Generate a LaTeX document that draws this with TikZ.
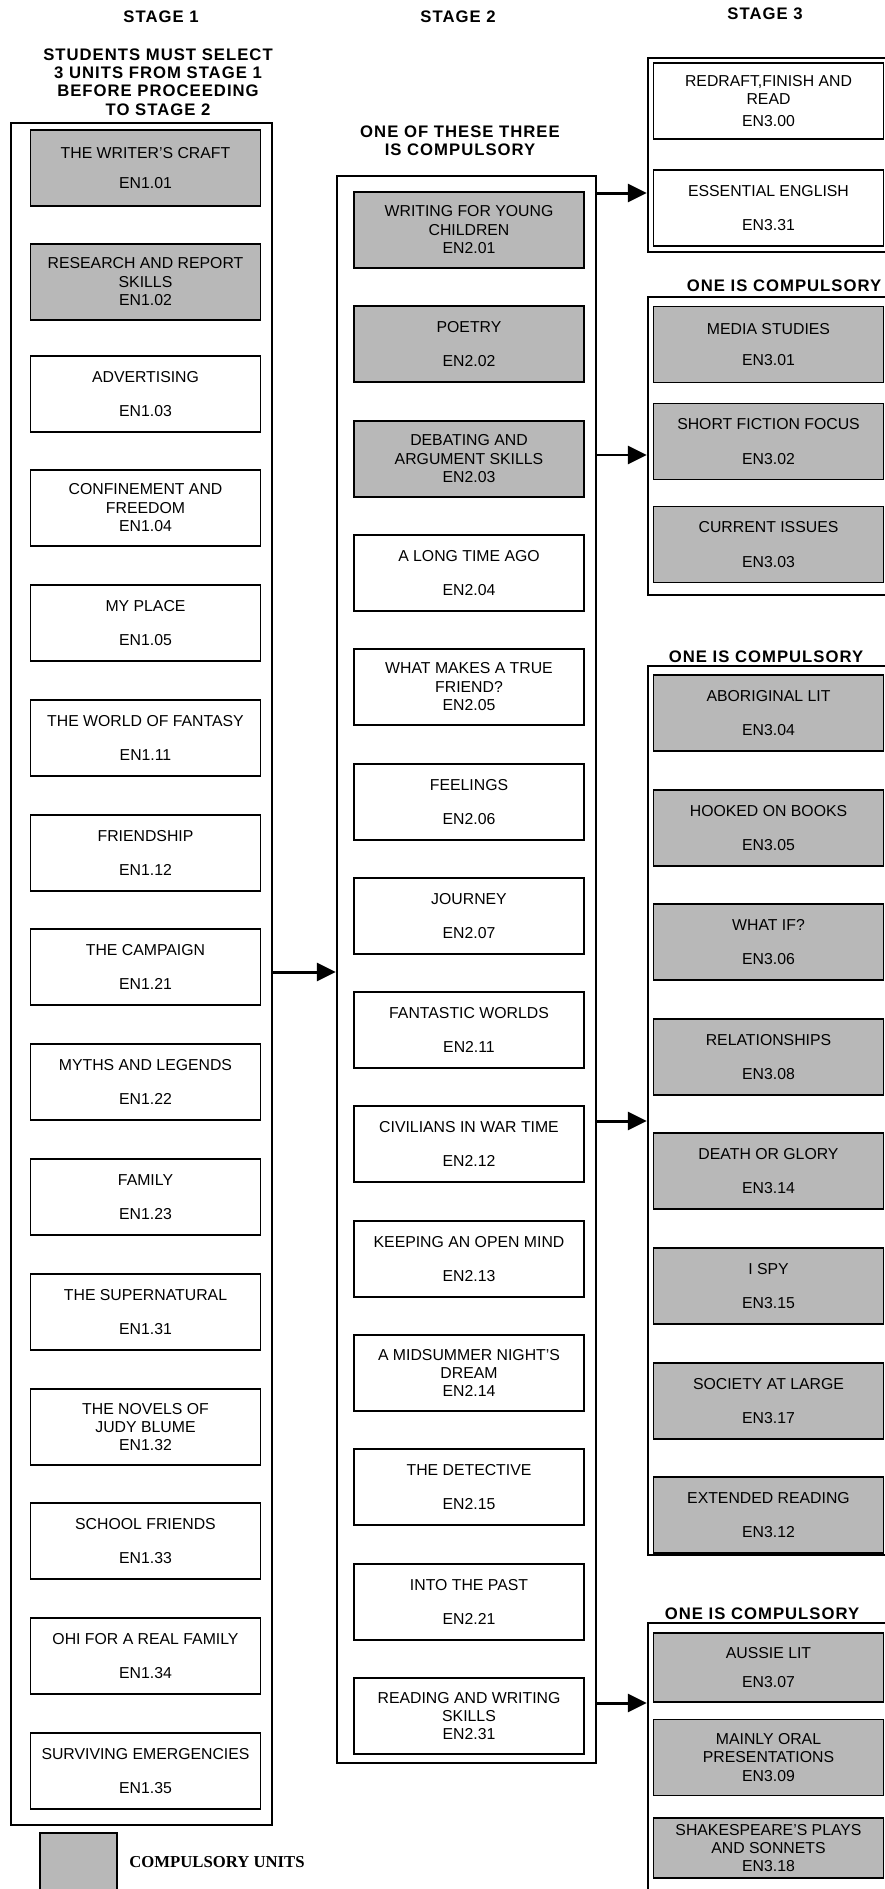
\documentclass[tikz,border=0pt]{standalone}
\usepackage{fontspec}
\setmainfont{Liberation Sans}
\newfontfamily\headfont[LetterSpace=6]{Liberation Sans}
\newfontfamily\legendfont{Liberation Serif}
\usetikzlibrary{arrows.meta}

\tikzset{
  frame/.style={draw, line width=1.4pt, inner sep=0pt},
  unit/.style={draw, line width=1.1pt, minimum width=46mm, minimum height=15.2mm,
    inner sep=1pt, align=center, font=\fontsize{9}{10.5}\selectfont},
  core/.style={unit, fill=black!28},
  head/.style={align=center, font=\headfont\fontsize{9.5}{10.4}\selectfont\bfseries},
  link/.style={line width=1.7pt, -{Triangle[length=3.8mm,width=3.6mm]}},
}

\begin{document}
\begin{tikzpicture}[x=0.2mm,y=-0.2mm]
\useasboundingbox (0,0) rectangle (885,1889);
\clip (0,0) rectangle (885,1889);

\node[head] (stage1) at (161,17) {STAGE 1};
\node[head] (stage2) at (458,17) {STAGE 2};
\node[head] (stage3) at (765,14) {STAGE 3};

\node[head] (rule1) at (158,82) {STUDENTS MUST SELECT\\3 UNITS FROM STAGE 1\\BEFORE PROCEEDING\\TO STAGE 2};
\node[head] (rule2) at (460,141) {ONE OF THESE THREE\\IS COMPULSORY};
\node[head] (ruleb) at (784,286) {ONE IS COMPULSORY};
\node[head] (rulec) at (766,657) {ONE IS COMPULSORY};
\node[head] (ruled) at (762,1614) {ONE IS COMPULSORY};

\node[frame, minimum width=52.2mm, minimum height=340.4mm] (stageone) at (141.5,974) {};
\node[frame, minimum width=51.8mm, minimum height=317.4mm] (stagetwo) at (466.5,969.5) {};
\node[frame, minimum width=51.8mm, minimum height=38.8mm] (groupa) at (777.5,155) {};
\node[frame, minimum width=51.8mm, minimum height=59.6mm] (groupb) at (777.5,446) {};
\node[frame, minimum width=51.8mm, minimum height=177.8mm] (groupc) at (777.5,1110.5) {};
\node[frame, minimum width=51.8mm, minimum height=67.4mm] (groupd) at (777.5,1791.5) {};

\node[core] (en101) at (145.5,168) {THE WRITER'S CRAFT\\[7pt]EN1.01};
\node[core] (en102) at (145.5,282) {RESEARCH AND REPORT\\SKILLS\\EN1.02};
\node[unit] (en103) at (145.5,394) {ADVERTISING\\[9pt]EN1.03};
\node[unit] (en104) at (145.5,508) {CONFINEMENT AND\\FREEDOM\\EN1.04};
\node[unit] (en105) at (145.5,623) {MY PLACE\\[9pt]EN1.05};
\node[unit] (en111) at (145.5,738) {THE WORLD OF FANTASY\\[9pt]EN1.11};
\node[unit] (en112) at (145.5,853) {FRIENDSHIP\\[9pt]EN1.12};
\node[unit] (en121) at (145.5,967) {THE CAMPAIGN\\[9pt]EN1.21};
\node[unit] (en122) at (145.5,1082) {MYTHS AND LEGENDS\\[9pt]EN1.22};
\node[unit] (en123) at (145.5,1197) {FAMILY\\[9pt]EN1.23};
\node[unit] (en131) at (145.5,1312) {THE SUPERNATURAL\\[9pt]EN1.31};
\node[unit] (en132) at (145.5,1427) {THE NOVELS OF\\JUDY BLUME\\EN1.32};
\node[unit] (en133) at (145.5,1541) {SCHOOL FRIENDS\\[9pt]EN1.33};
\node[unit] (en134) at (145.5,1656) {OHI FOR A REAL FAMILY\\[9pt]EN1.34};
\node[unit] (en135) at (145.5,1771) {SURVIVING EMERGENCIES\\[9pt]EN1.35};

\node[core] (en201) at (469,230) {WRITING FOR YOUNG\\CHILDREN\\EN2.01};
\node[core] (en202) at (469,344) {POETRY\\[9pt]EN2.02};
\node[core] (en203) at (469,459) {DEBATING AND\\ARGUMENT SKILLS\\EN2.03};
\node[unit] (en204) at (469,573) {A LONG TIME AGO\\[9pt]EN2.04};
\node[unit] (en205) at (469,687) {WHAT MAKES A TRUE\\FRIEND?\\EN2.05};
\node[unit] (en206) at (469,802) {FEELINGS\\[9pt]EN2.06};
\node[unit] (en207) at (469,916) {JOURNEY\\[9pt]EN2.07};
\node[unit] (en211) at (469,1030) {FANTASTIC WORLDS\\[9pt]EN2.11};
\node[unit] (en212) at (469,1144) {CIVILIANS IN WAR TIME\\[9pt]EN2.12};
\node[unit] (en213) at (469,1259) {KEEPING AN OPEN MIND\\[9pt]EN2.13};
\node[unit] (en214) at (469,1373) {A MIDSUMMER NIGHT'S\\DREAM\\EN2.14};
\node[unit] (en215) at (469,1487) {THE DETECTIVE\\[9pt]EN2.15};
\node[unit] (en221) at (469,1602) {INTO THE PAST\\[9pt]EN2.21};
\node[unit] (en231) at (469,1716) {READING AND WRITING\\SKILLS\\EN2.31};

\node[unit] (en300) at (768.5,101) {REDRAFT,FINISH AND\\READ\\[2pt]EN3.00};
\node[unit] (en331) at (768.5,208) {ESSENTIAL ENGLISH\\[9pt]EN3.31};

\node[core] (en301) at (768.5,344.5) {MEDIA STUDIES\\[7pt]EN3.01};
\node[core] (en302) at (768.5,441.5) {SHORT FICTION FOCUS\\[9pt]EN3.02};
\node[core] (en303) at (768.5,544.5) {CURRENT ISSUES\\[9pt]EN3.03};

\node[core] (en304) at (768.5,713) {ABORIGINAL LIT\\[9pt]EN3.04};
\node[core] (en305) at (768.5,828) {HOOKED ON BOOKS\\[9pt]EN3.05};
\node[core] (en306) at (768.5,942) {WHAT IF?\\[9pt]EN3.06};
\node[core] (en308) at (768.5,1057) {RELATIONSHIPS\\[9pt]EN3.08};
\node[core] (en314) at (768.5,1171) {DEATH OR GLORY\\[9pt]EN3.14};
\node[core] (en315) at (768.5,1286) {I SPY\\[9pt]EN3.15};
\node[core] (en317) at (768.5,1401) {SOCIETY AT LARGE\\[9pt]EN3.17};
\node[core] (en312) at (768.5,1515) {EXTENDED READING\\[9pt]EN3.12};

\node[core, minimum height=13.8mm] (en307) at (768.5,1667.5) {AUSSIE LIT\\[6pt]EN3.07};
\node[core] (en309) at (768.5,1757.5) {MAINLY ORAL\\PRESENTATIONS\\EN3.09};
\node[core, minimum height=12mm] (en318) at (768.5,1848) {SHAKESPEARE'S PLAYS\\AND SONNETS\\EN3.18};

\node[core, minimum width=15.4mm, minimum height=14.8mm] (legend) at (78.5,1870) {};
\node[font=\legendfont\fontsize{9.5}{11}\selectfont\bfseries] (legendtext) at (217,1862) {COMPULSORY UNITS};

\draw[link] ([yshift=-1mm]en121 -| stageone.east) -- ([yshift=-1mm]en121 -| stagetwo.west);
\draw[link] ([yshift=-0.4mm]en201.north -| stagetwo.east) -- ([yshift=-0.4mm]en201.north -| groupa.west);
\draw[link] ([yshift=0.8mm]en203 -| stagetwo.east) -- ([yshift=0.8mm]en203 -| groupb.west);
\draw[link] ([yshift=-3.2mm]en212.north -| stagetwo.east) -- ([yshift=-3.2mm]en212.north -| groupc.west);
\draw[link] ([yshift=2.6mm]en231 -| stagetwo.east) -- ([yshift=2.6mm]en231 -| groupd.west);
\end{tikzpicture}
\end{document}
